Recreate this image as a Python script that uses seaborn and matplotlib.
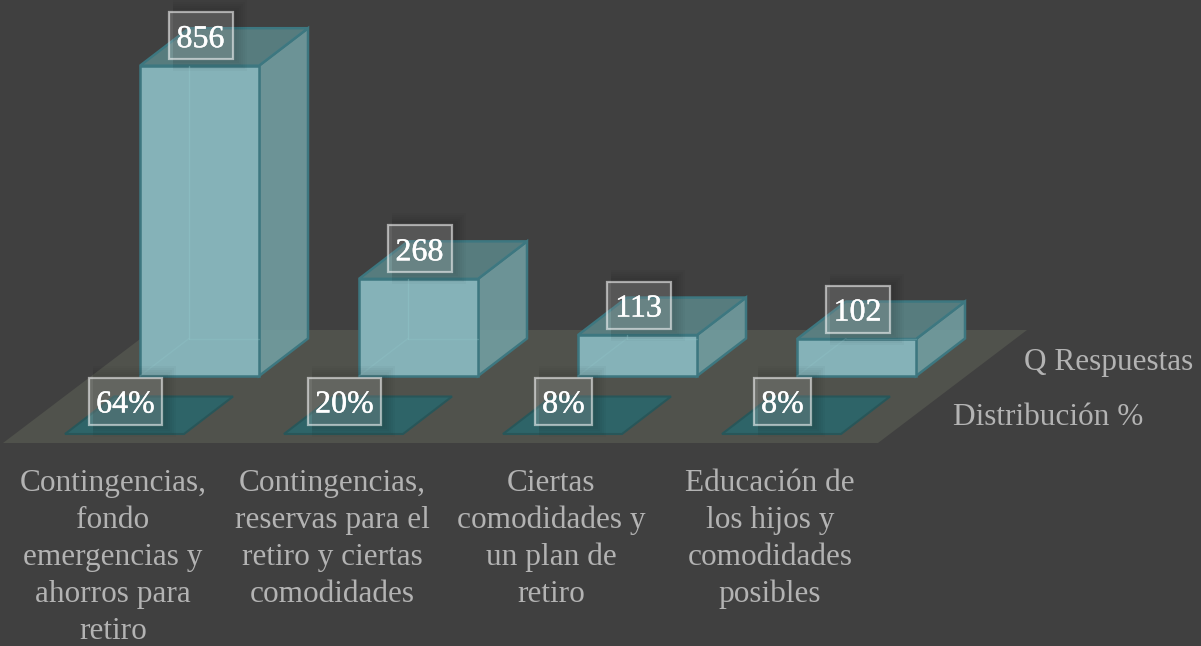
import matplotlib
matplotlib.use("Agg")
import matplotlib.pyplot as plt
from matplotlib.patches import Polygon, Rectangle
import matplotlib.patheffects as pe
import seaborn as sns
import pandas as pd

# ---- data
categories = ["Contingencias,\nfondo\nemergencias y\nahorros para\nretiro",
              "Contingencias,\nreservas para el\nretiro y ciertas\ncomodidades",
              "Ciertas\ncomodidades y\nun plan de\nretiro",
              "Educación de\nlos hijos y\ncomodidades\nposibles"]
respuestas = [856, 268, 113, 102]
distribucion = [64, 20, 8, 8]
series_names = ["Q Respuestas", "Distribución %"]

# ---- styles / scale
W, H = 1201, 646
BG = "#404040"
FONT = "Liberation Serif"
PX_X = 219.0        # pixels per category
PX_Y = 0.3625       # pixels per response
X0 = 199.5          # pixel of first category centre
Y0 = 376.0          # pixel of baseline
BAR_PX = 119.0
DX, DY = 49 / PX_X, 37.5 / PX_Y   # depth of the 3D projection

sns.set_theme(style="white", rc={"figure.facecolor": BG, "axes.facecolor": BG})
plt.rcParams["font.family"] = [FONT, "DejaVu Sans"]

fig = plt.figure(figsize=(W / 100, H / 100), dpi=100, facecolor=BG)
ax = fig.add_axes([0, 0, 1, 1])

df = pd.DataFrame({"categoria": categories, "respuestas": respuestas})
sns.barplot(data=df, x="categoria", y="respuestas", ax=ax, width=BAR_PX / PX_X,
            color="#85b2b8", saturation=1, edgecolor="#3d7780", linewidth=1.8,
            zorder=4)
ax.set_xlim((0 - X0) / PX_X, (W - X0) / PX_X)
ax.set_ylim((Y0 - H) / PX_Y, Y0 / PX_Y)
ax.set_axis_off()


def px_x(p):   # offset in pixels -> category units
    return p / PX_X


def px_y(p):   # offset in pixels (downwards) -> response units
    return -p / PX_Y


hw = BAR_PX / PX_X / 2
n = len(categories)

# floor
fy = px_y(67)
fl = -hw + px_x(-137)
fr = n - 1 + hw + px_x(-38)
fdx, fdy = px_x(149), 113 / PX_Y
ax.add_patch(Polygon([(fl, fy), (fr, fy), (fr + fdx, fy + fdy), (fl + fdx, fy + fdy)],
                     closed=True, fc="#50524c", ec="none", zorder=1))

for i, (q, p) in enumerate(zip(respuestas, distribucion)):
    # flat tiles for the percentage series
    ty = px_y(58)
    tl, tr = i - hw + px_x(-75), i + hw + px_x(-75)
    ax.add_patch(Polygon([(tl, ty), (tr, ty), (tr + DX, ty + DY), (tl + DX, ty + DY)],
                         closed=True, fc="#2e6468", ec="#285659", lw=1.5, zorder=2))
    # depth faces of the bars
    l, r = i - hw, i + hw
    ax.add_patch(Polygon([(r, 0), (r + DX, DY), (r + DX, q + DY), (r, q)], closed=True,
                         fc=(0.456, 0.64, 0.65, 0.85), ec="#3d7780", lw=1.8, zorder=3))
    ax.add_patch(Polygon([(l, q), (r, q), (r + DX, q + DY), (l + DX, q + DY)], closed=True,
                         fc=(0.36, 0.53, 0.54, 0.85), ec="#3d7780", lw=1.8, zorder=3))
    # faint hidden edges seen through the front face
    ax.plot([l + DX, l + DX], [DY, q], color="#92c6ca", lw=1, zorder=5, alpha=.45)
    ax.plot([l, l + DX], [0, DY], color="#92c6ca", lw=1, zorder=5, alpha=.3)
    ax.plot([l + DX, r], [DY, DY], color="#92c6ca", lw=1, zorder=5, alpha=.3)


def box(cx, cy, w_px, h_px, s):
    wx, hy = px_x(w_px), h_px / PX_Y
    for g in (12, 10, 8, 6, 4, 2):
        ax.add_patch(Rectangle((cx - wx / 2 + px_x(4), cy - hy / 2 - g / PX_Y),
                               wx + px_x(g - 2), hy + 2 * g / PX_Y,
                               fc=(0, 0, 0, 0.022), ec="none", zorder=6))
    ax.add_patch(Rectangle((cx - wx / 2, cy - hy / 2), wx, hy, fc=(1, 1, 1, 0.17),
                           ec=(1, 1, 1, 0.55), lw=1.6, zorder=7))
    ax.text(cx, cy - 11.5 / PX_Y, s, ha="center", va="baseline", fontsize=23, color="white",
            zorder=8, path_effects=[pe.withStroke(linewidth=0.3, foreground="white")])


for i, (q, p) in enumerate(zip(respuestas, distribucion)):
    box(i + px_x(1), q + 30 / PX_Y, 64, 47, f"{q}")
    w = 73 if p >= 10 else 57
    box(i + px_x(-74), px_y(25), w, 47, f"{p}%")

# category labels
for i, lab in enumerate(categories):
    for k, line in enumerate(lab.split("\n")):
        ax.text(i + px_x(-86.5), px_y(115 + k * 37), line, ha="center", va="baseline",
                fontsize=22.5, color="#b3b3b3", zorder=8)

# series names
ax.text(px_x(1193 - X0), px_y(-6), series_names[0], ha="right", va="baseline",
        fontsize=22.5, color="#b3b3b3", zorder=8)
ax.text(px_x(1143 - X0), px_y(49), series_names[1], ha="right", va="baseline",
        fontsize=22.5, color="#b3b3b3", zorder=8)

fig.savefig("out.png", dpi=100, facecolor=BG)
